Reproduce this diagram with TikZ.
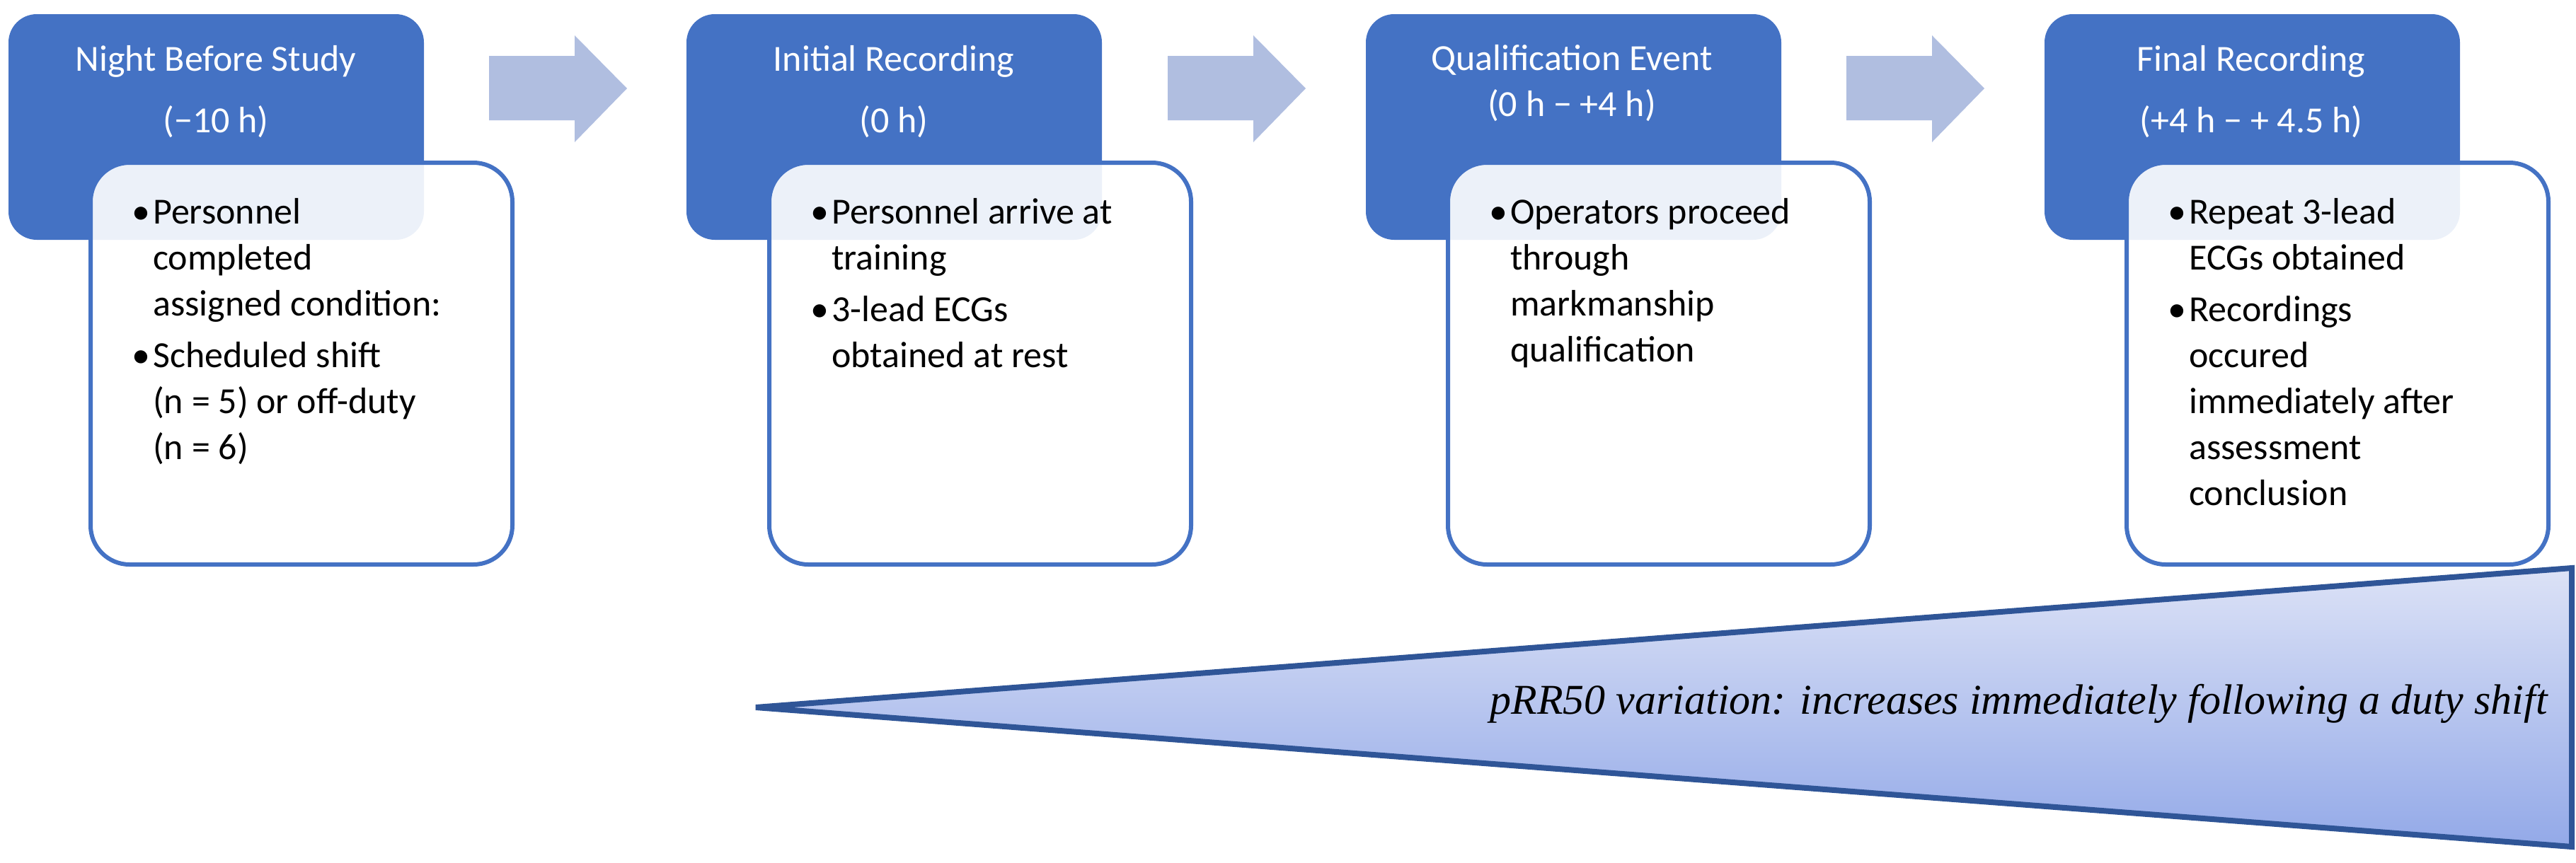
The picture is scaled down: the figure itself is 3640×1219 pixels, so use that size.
\documentclass[tikz,border=0pt]{standalone}
\usepackage{fontspec}
\setmainfont{Carlito}
\newfontfamily\tnr{Liberation Serif}
\usetikzlibrary{shadings}
\definecolor{hdr}{HTML}{4472C4}
\definecolor{arr}{HTML}{B0BEE0}
\definecolor{tri}{HTML}{2F5597}
\definecolor{triT}{HTML}{DCE2F6}
\definecolor{triB}{HTML}{93A9E8}
\newcommand{\bl}{\makebox[30pt][l]{\textbullet}}
\newcommand{\ind}{\hspace*{30pt}}
\tikzset{
 hdrbox/.style={fill=hdr, rounded corners=40pt},
 hdrtxt/.style={text=white, align=center, font=\fontsize{52}{87}\selectfont, inner sep=0},
 bodybox/.style={draw=hdr, line width=6pt, fill=white, fill opacity=0.9, rounded corners=55pt},
 bodytxt/.style={anchor=north west, align=left, font=\fontsize{52}{65}\selectfont, inner sep=0, text=black},
 stepar/.style={fill=arr},
}
\begin{document}
\begin{tikzpicture}[x=1pt,y=-1pt]
\useasboundingbox (0,0) rectangle (3640,1219);
\foreach \i/\x in {1/12,2/970,3/1930,4/2889}{
  \path[hdrbox] (\x,20) rectangle ++(587,319);
}
\foreach \x in {691,1650,2609}{
  \path[stepar] (\x,79) -- (\x+121,79) -- (\x+121,50) -- (\x+195,125) -- (\x+121,201) -- (\x+121,170) -- (\x,170) -- cycle;
}
\foreach \x in {128,1087,2046,3005}{
  \path[bodybox] (\x,230) rectangle ++(596,568);
}
\node[hdrtxt] (h1) at (305,130) {Night Before Study\\(−10 h)};
\node[hdrtxt] (h2) at (1263,130) {Initial Recording\\(0 h)};
\node[hdrtxt] (h3) at (2221,118) {Qualification Event\\[-22pt](0 h − +4 h)};
\node[hdrtxt] (h4) at (3181,130) {Final Recording\\(+4 h − + 4.5 h)};
\node[bodytxt] (b1) at (186,280) {\bl Personnel\\\ind completed\\\ind assigned condition:\\[8pt]\bl Scheduled shift\\\ind (n = 5) or off-duty\\\ind (n = 6)};
\node[bodytxt] (b2) at (1145,280) {\bl Personnel arrive at\\\ind training\\[8pt]\bl 3-lead ECGs\\\ind obtained at rest};
\node[bodytxt] (b3) at (2104,280) {\bl Operators proceed\\\ind through\\\ind markmanship\\\ind qualification};
\node[bodytxt] (b4) at (3063,280) {\bl Repeat 3-lead\\\ind ECGs obtained\\[8pt]\bl Recordings\\\ind occured\\\ind immediately after\\\ind assessment\\\ind conclusion};
\path[top color=triT, bottom color=triB, draw=tri, line width=8pt, line join=miter]
  (1068,1000) -- (3634,803) -- (3634,1197) -- cycle;
\node[anchor=east, inner sep=0, font=\tnr\itshape\fontsize{60}{70}\selectfont] (t) at (3600,995) {pRR50 variation: increases immediately following a duty shift};
\end{tikzpicture}
\end{document}
